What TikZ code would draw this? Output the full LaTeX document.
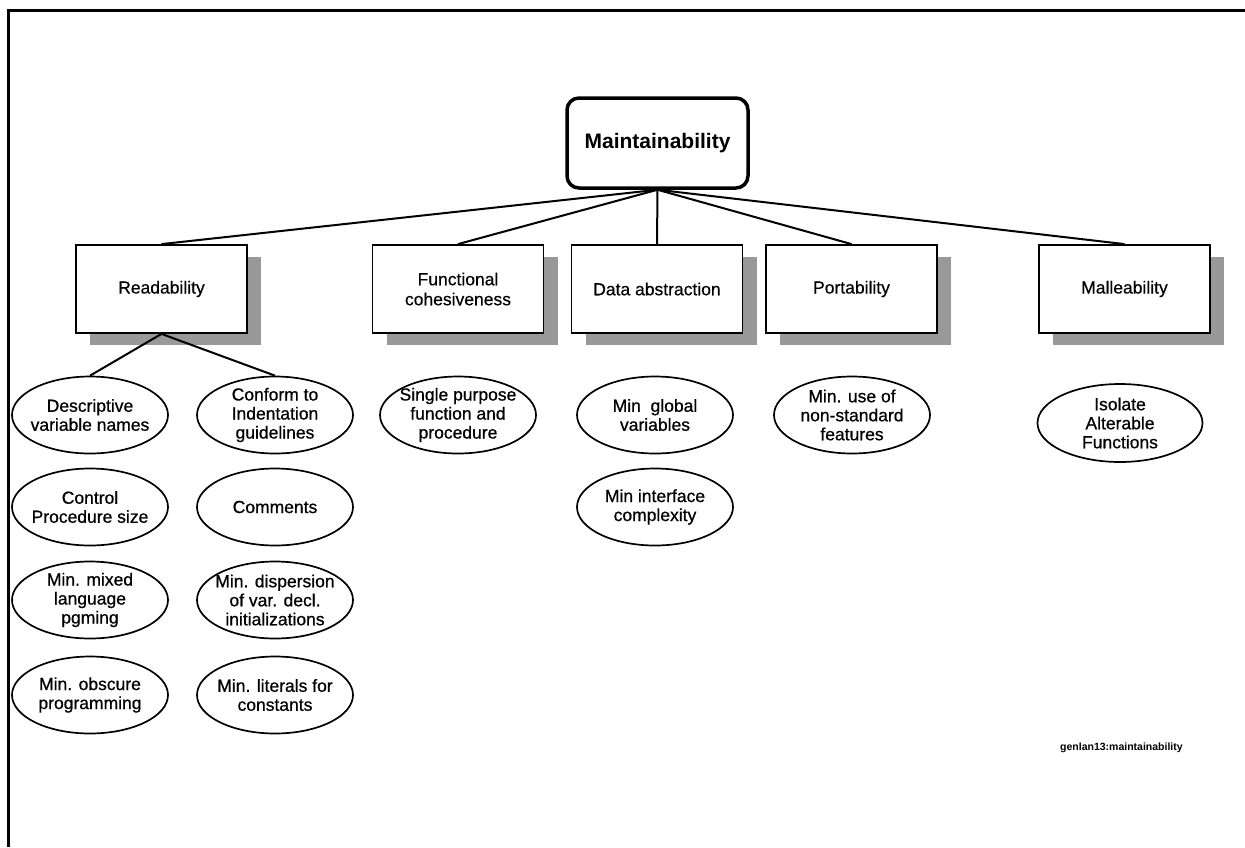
\documentclass[tikz,border=0pt]{standalone}
\usepackage{fontspec}
\setmainfont{Liberation Sans}
\newfontfamily\scanfont[FakeBold=0.7]{Liberation Sans}
\newfontfamily\boxfont[FakeBold=0.4]{Liberation Sans}
\usetikzlibrary{shapes.geometric,shadows}
\begin{document}
\begin{tikzpicture}[x=1pt,y=-1pt,
  cat/.style={draw,line width=1.8pt,fill=white,minimum width=171pt,minimum height=88pt,inner sep=0pt,align=center,
    font=\boxfont\fontsize{17.5}{20}\selectfont,
    drop shadow={shadow xshift=14pt,shadow yshift=-12pt,fill=black!40,opacity=1,draw=none}},
  item/.style={ellipse,draw,line width=1.7pt,minimum width=156pt,minimum height=77pt,inner sep=0pt,
    label={[align=center,inner sep=0pt,font=\scanfont\fontsize{17.5}{19}\selectfont]center:#1}},
  link/.style={line width=2pt}]
\useasboundingbox (0,0) rectangle (1245,847);
\draw[line width=3pt] (1245,10) -- (8,10) -- (8,847);

\node[draw,line width=3.5pt,rounded corners=12pt,minimum width=181pt,minimum height=90pt,inner sep=0pt,
  font=\bfseries\fontsize{21}{24}\selectfont] (root) at (657.5,143) {Maintainability};

\node[cat] (read) at (161.5,289) {Readability};
\node[cat] (func) at (458,289) {Functional\\cohesiveness};
\node[cat] (data) at (657,289) {Data abstraction};
\node[cat] (port) at (851.5,289) {Portability};
\node[cat] (mall) at (1124.5,289) {Malleability};

\draw[link] (root.south) -- (read.north);
\draw[link] (root.south) -- (func.north);
\draw[link] (root.south) -- (data.north);
\draw[link] (root.south) -- (port.north);
\draw[link] (root.south) -- (mall.north);

\node[item={Descriptive\\variable names}] (d1) at (90,415) {};
\node[item={Control\\Procedure size}] (d2) at (90,507) {};
\node[item={Min. mixed\\language\\pgming}] (d3) at (90,600) {};
\node[item={Min. obscure\\programming}] (d4) at (90,695) {};
\node[item={Conform to\\Indentation\\guidelines}] (c1) at (275,415) {};
\node[item={Comments}] (c2) at (275,507) {};
\node[item={Min. dispersion\\of var. decl.\\initializations}] (c3) at (275,600) {};
\node[item={Min. literals for\\constants}] (c4) at (275,695) {};

\draw[link] (read.south) -- (d1.north);
\draw[link] (read.south) -- (c1.north);

\node[item={Single purpose\\function and\\procedure}] (f1) at (458,415) {};
\node[item={Min\ \ global\\variables}] (g1) at (655,415) {};
\node[item={Min interface\\complexity}] (g2) at (655,507) {};
\node[item={Min. use of\\non-standard\\features}] (p1) at (852,415) {};
\node[item={Isolate\\Alterable\\Functions},minimum width=165pt,minimum height=78pt] (m1) at (1120,423) {};

\node[font=\bfseries\fontsize{10.5}{12}\selectfont,anchor=west,inner sep=0pt] (foot) at (1060,748) {genlan13:maintainability};
\end{tikzpicture}
\end{document}
